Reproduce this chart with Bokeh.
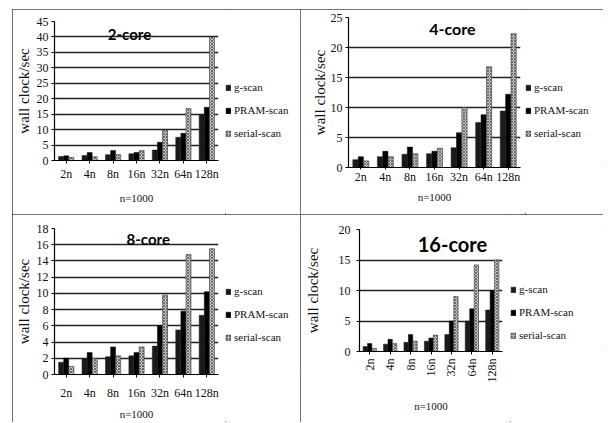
import math
from bokeh.plotting import figure
from bokeh.layouts import row, column
from bokeh.models import (Range1d, FactorRange, FixedTicker, Legend, LegendItem,
                          Label, ColumnDataSource)
from bokeh.transform import dodge
from bokeh.embed import file_html
from bokeh.resources import INLINE

# ---------------- data ----------------
sizes = ["2n", "4n", "8n", "16n", "32n", "64n", "128n"]
series_names = ["g-scan", "PRAM-scan", "serial-scan"]

g_2core = [1.3, 1.6, 1.9, 2.2, 3.4, 7.5, 14.9]
pram_2core = [1.5, 2.6, 3.2, 2.6, 5.9, 8.8, 17.2]
serial_2core = [1.0, 1.2, 1.9, 3.2, 9.8, 16.8, 40.0]

g_4core = [1.3, 1.8, 2.2, 2.3, 3.3, 7.5, 9.4]
pram_4core = [1.8, 2.7, 3.4, 2.7, 5.8, 8.8, 12.2]
serial_4core = [1.1, 1.8, 2.3, 3.2, 10.0, 16.8, 22.3]

g_8core = [1.5, 1.9, 2.2, 2.3, 3.5, 5.5, 7.3]
pram_8core = [2.0, 2.7, 3.4, 2.7, 6.0, 7.8, 10.2]
serial_8core = [1.0, 2.0, 2.3, 3.4, 9.8, 14.8, 15.5]

g_16core = [0.8, 1.2, 1.5, 1.7, 2.8, 5.0, 6.8]
pram_16core = [1.3, 2.0, 2.8, 2.2, 5.0, 7.0, 10.0]
serial_16core = [0.5, 1.3, 1.7, 2.7, 9.0, 14.2, 15.0]

titles = ["2-core", "4-core", "8-core", "16-core"]
yticks_2core = [0, 5, 10, 15, 20, 25, 30, 35, 40, 45]
yticks_4core = [0, 5, 10, 15, 20, 25]
yticks_8core = [0, 2, 4, 6, 8, 10, 12, 14, 16, 18]
yticks_16core = [0, 5, 10, 15, 20]
y_label = "wall clock/sec"
x_label = "n=1000"

SERIF = "Liberation Serif"

G_STYLE = dict(fill_color="#1a1a1a", line_color="#1a1a1a", line_width=0.5)
P_STYLE = dict(fill_color="#000000", line_color="#000000", line_width=0.5)
S_STYLE = dict(fill_color="#c8c8c8", line_color="#333333", line_width=0.6,
               hatch_pattern="diagonal_cross", hatch_color="#555555", hatch_scale=3,
               hatch_weight=0.8)


def panel(title, g, pram, serial, yticks, width, height, chart_w, borders, title_pos,
          title_size, xaxis_cfg, yaxis_cfg, legend_drop, margin, vertical_x=False):
    bl, frame_w, bt, bb = borders
    src = ColumnDataSource(dict(size=sizes, g=g, pram=pram, serial=serial))
    p = figure(x_range=FactorRange(*sizes), y_range=Range1d(yticks[0], yticks[-1]),
               width=chart_w, height=height, output_backend="svg", toolbar_location=None,
               min_border_left=bl, min_border_right=chart_w - bl - frame_w,
               min_border_top=bt, min_border_bottom=bb)
    p.outline_line_color = None
    p.background_fill_color = "white"
    p.border_fill_color = "white"

    bw = 0.21
    p.vbar(x=dodge("size", -0.22, range=p.x_range), top="g", width=bw, source=src, **G_STYLE)
    p.vbar(x=dodge("size", 0.0, range=p.x_range), top="pram", width=bw, source=src, **P_STYLE)
    p.vbar(x=dodge("size", 0.22, range=p.x_range), top="serial", width=bw, source=src, **S_STYLE)

    # grid
    p.xgrid.grid_line_color = None
    p.ygrid.ticker = FixedTicker(ticks=yticks)
    p.ygrid.grid_line_color = "#222222"
    p.ygrid.grid_line_width = 1.4

    # y axis
    ya = p.yaxis[0]
    ya.ticker = FixedTicker(ticks=yticks)
    ya.axis_label = y_label
    ya.axis_line_color = "black"
    ya.axis_line_width = 1.2
    ya.major_tick_in = 0
    ya.major_tick_out = 3
    ya.minor_tick_line_color = None
    ya.major_label_text_font = SERIF
    ya.major_label_text_font_size = "12px"
    ya.major_label_text_color = "#111111"
    ya.axis_label_text_font = SERIF
    ya.axis_label_text_font_size = yaxis_cfg["label_size"]
    ya.axis_label_text_font_style = "normal"
    ya.axis_label_text_color = "#111111"
    ya.major_label_standoff = yaxis_cfg["standoff"]
    ya.axis_label_standoff = yaxis_cfg["label_standoff"]

    # x axis
    xa = p.xaxis[0]
    xa.axis_label = x_label
    xa.axis_line_color = "black"
    xa.axis_line_width = 1.2
    xa.major_tick_in = 0
    xa.major_tick_out = xaxis_cfg["tick_out"]
    xa.major_label_text_font = SERIF
    xa.major_label_text_font_size = "12px"
    xa.major_label_text_color = "#111111"
    xa.axis_label_text_font = SERIF
    xa.axis_label_text_font_size = "11px"
    xa.axis_label_text_font_style = "normal"
    xa.axis_label_text_color = "#111111"
    xa.major_label_standoff = xaxis_cfg["standoff"]
    xa.axis_label_standoff = xaxis_cfg["label_standoff"]
    if vertical_x:
        xa.major_label_orientation = math.pi / 2

    # title inside the plot
    tx, ty = title_pos
    p.add_layout(Label(x=tx, y=ty, text=title, text_font="Lato", text_font_style="bold",
                       text_font_size=title_size, text_align="center",
                       text_baseline="middle", text_color="black"))

    # legend in its own small canvas to the right of the chart
    lf = figure(width=width - chart_w, height=height, output_backend="svg",
                toolbar_location=None, x_axis_type=None, y_axis_type=None,
                x_range=Range1d(0, 1), y_range=Range1d(1, 2),
                min_border_left=0, min_border_right=0, min_border_top=0,
                min_border_bottom=0)
    lf.outline_line_color = None
    lf.xgrid.visible = False
    lf.ygrid.visible = False
    lf.background_fill_color = "white"
    lf.border_fill_color = "white"
    proxy = ColumnDataSource(dict(x=[0.5], top=[0.0]))  # legend proxies, not drawn
    l1 = lf.vbar(x="x", top="top", width=0.1, source=proxy, visible=False, **G_STYLE)
    l2 = lf.vbar(x="x", top="top", width=0.1, source=proxy, visible=False, **P_STYLE)
    l3 = lf.vbar(x="x", top="top", width=0.1, source=proxy, visible=False, **S_STYLE)
    legend = Legend(items=[LegendItem(label=series_names[0], renderers=[l1]),
                           LegendItem(label=series_names[1], renderers=[l2]),
                           LegendItem(label=series_names[2], renderers=[l3])],
                    location="top_left", orientation="vertical",
                    title=" ", title_text_font_size="1px", title_standoff=legend_drop,
                    border_line_color=None, background_fill_alpha=0.0,
                    padding=0, margin=0, spacing=11, glyph_width=6, glyph_height=7,
                    label_height=10, label_standoff=3,
                    label_text_font=SERIF, label_text_font_size="11px",
                    label_text_color="#111111")
    lf.add_layout(legend, "center")

    return row(p, lf, margin=margin,
               styles={"outline": "1px solid #444", "outline-offset": "-1px"})


pan1 = panel(titles[0], g_2core, pram_2core, serial_2core, yticks_2core,
             288, 205, 213, (41, 165, 12, 54), (3.2, 41), "15px",
             dict(tick_out=3, standoff=3, label_standoff=8),
             dict(standoff=3, label_standoff=2, label_size="15px"),
             59, (9, 0, 0, 12))
pan2 = panel(titles[1], g_4core, pram_4core, serial_4core, yticks_4core,
             303, 205, 225, (48, 172, 8, 47), (4.23, 23.2), "16px",
             dict(tick_out=2, standoff=0, label_standoff=4),
             dict(standoff=3, label_standoff=0, label_size="15px"),
             63, (9, 0, 0, 0))
pan3 = panel(titles[2], g_8core, pram_8core, serial_8core, yticks_8core,
             288, 208, 213, (42, 164, 14, 44), (4.0, 16.75), "15px",
             dict(tick_out=3, standoff=8, label_standoff=5),
             dict(standoff=3, label_standoff=2, label_size="15px"),
             56, (0, 0, 0, 12))
pan4 = panel(titles[3], g_16core, pram_16core, serial_16core, yticks_16core,
             303, 208, 210, (59, 143, 15, 71), (4.55, 17.6), "20px",
             dict(tick_out=3, standoff=4, label_standoff=14),
             dict(standoff=6, label_standoff=15, label_size="15px"),
             53, (0, 0, 0, 0), vertical_x=True)

layout = column(row(pan1, pan2), row(pan3, pan4))
open("out.html", "w").write(file_html(layout, INLINE))
